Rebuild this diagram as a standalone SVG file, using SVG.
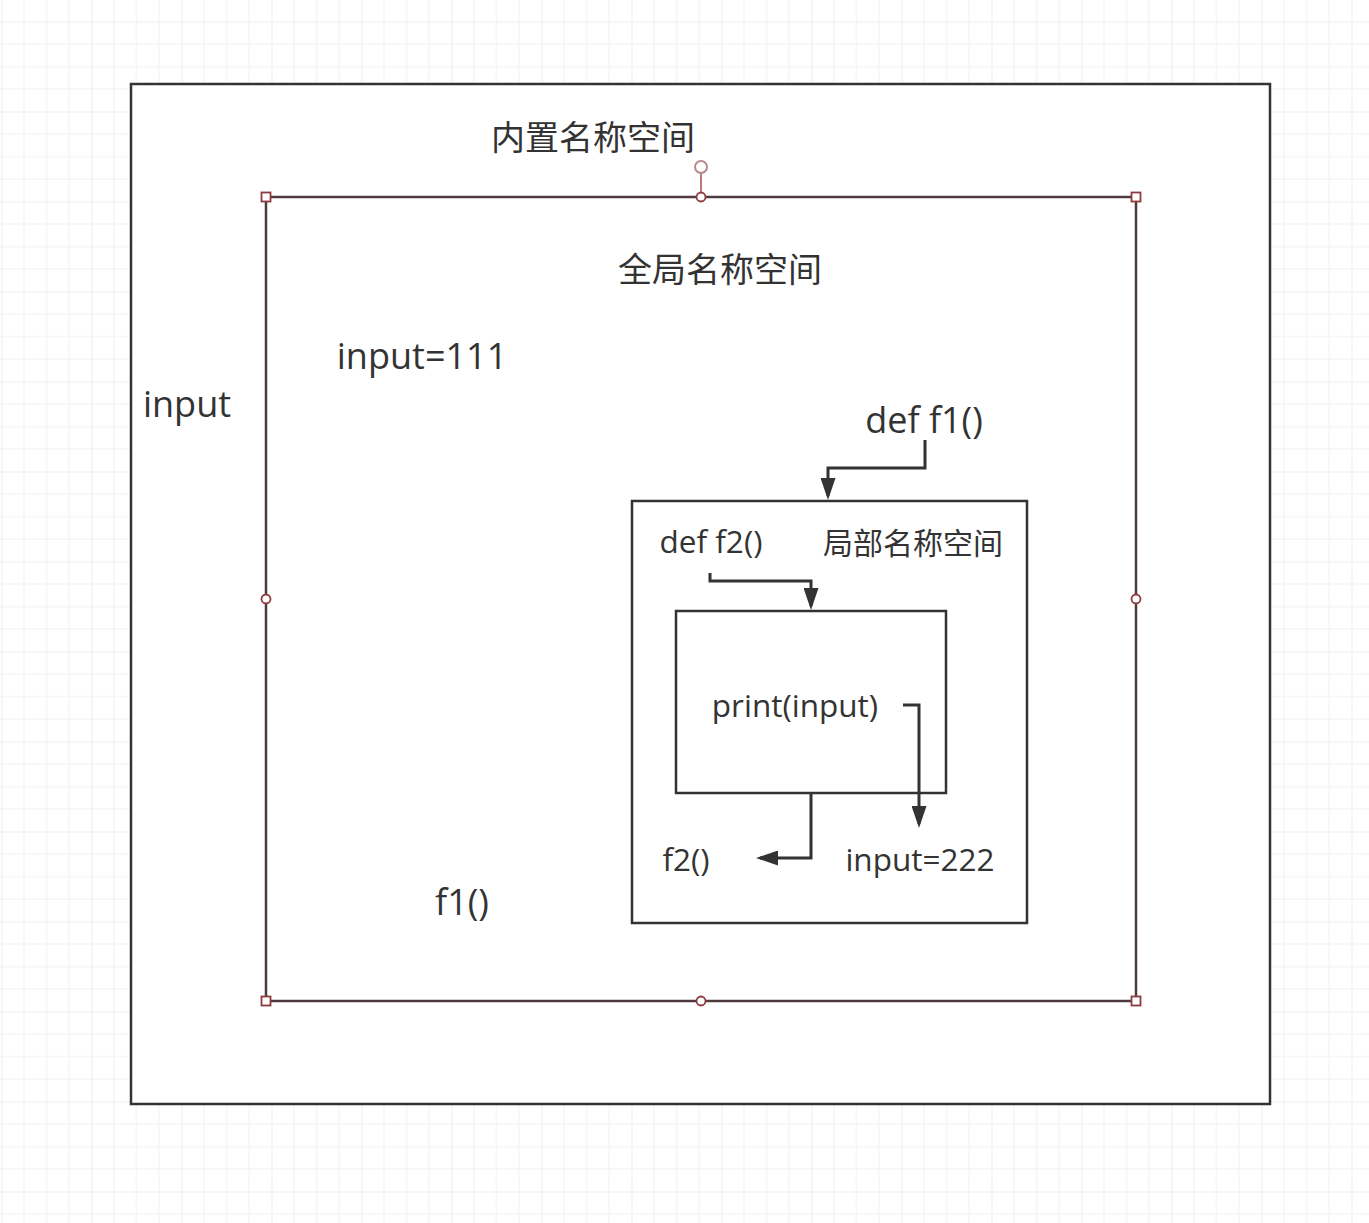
<svg xmlns="http://www.w3.org/2000/svg" width="1369" height="1223" viewBox="0 0 1369 1223">
<style>
.t{font-family:"Open Sans","Noto Sans CJK SC",sans-serif;fill:#333;}
.big{font-size:34px;}
.bigl{font-size:36px;}
.sm{font-size:30px;}
.sml{font-size:31.5px;}
.box{fill:none;stroke:#333;stroke-width:2.5;}
.sel{fill:none;stroke:#4e393c;stroke-width:2.5;}
.h{fill:#fff;stroke:#8e3a3e;stroke-width:1.8;}
.c{fill:none;stroke:#333;stroke-width:3;}
</style>
<defs>
<pattern id="grid" patternUnits="userSpaceOnUse" x="1.5" y="21.5" width="90" height="90">
<path d="M0 0V90M22.5 0V90M45 0V90M67.5 0V90M0 0H90M0 22.5H90M0 45H90M0 67.5H90" stroke="#f0f0f0" stroke-width="1" fill="none"/>
<path d="M0 0V90M0 0H90" stroke="#e6e6e6" stroke-width="1.2" fill="none"/>
</pattern>
<marker id="arr" markerWidth="22" markerHeight="15" refX="18" refY="7.5" orient="auto" markerUnits="userSpaceOnUse" viewBox="0 0 22 15">
<path d="M0 0L22 7.5L0 15Z" fill="#333"/>
</marker>
</defs>
<rect width="1369" height="1223" fill="#fff"/>
<rect width="1369" height="1223" fill="url(#grid)"/>

<g id="builtin">
<rect class="box" x="131" y="84" width="1139" height="1020" style="fill:#fff"/>
<text class="t big" x="593" y="150" text-anchor="middle">内置名称空间</text>
<text class="t bigl" x="187" y="417" text-anchor="middle">input</text>
</g>

<g id="global">
<rect class="sel" x="266" y="197" width="870" height="804"/>
<text class="t big" x="720" y="282" text-anchor="middle">全局名称空间</text>
<text class="t bigl" x="422" y="369" text-anchor="middle">input=111</text>
<text class="t bigl" x="924" y="433" text-anchor="middle">def f1()</text>
<text class="t bigl" x="462" y="915" text-anchor="middle">f1()</text>
</g>

<g id="handles">
<line x1="701" y1="173" x2="701" y2="197" stroke="#b56a70" stroke-width="1.8"/>
<circle cx="701" cy="167" r="6" fill="#fff" stroke="#b58a8c" stroke-width="2"/>
<rect class="h" x="261.5" y="192.5" width="9" height="9"/>
<rect class="h" x="1131.5" y="192.5" width="9" height="9"/>
<rect class="h" x="261.5" y="996.5" width="9" height="9"/>
<rect class="h" x="1131.5" y="996.5" width="9" height="9"/>
<circle class="h" cx="701" cy="197" r="4.5"/>
<circle class="h" cx="701" cy="1001" r="4.5"/>
<circle class="h" cx="266" cy="599" r="4.5"/>
<circle class="h" cx="1136" cy="599" r="4.5"/>
</g>

<g id="f1">
<rect class="box" x="632" y="501" width="395" height="422"/>
<text class="t sml" x="711" y="553" text-anchor="middle">def f2()</text>
<text class="t sm" x="913" y="554" text-anchor="middle">局部名称空间</text>
<text class="t sml" x="686" y="871" text-anchor="middle">f2()</text>
<text class="t sml" x="920" y="871" text-anchor="middle">input=222</text>
</g>

<g id="f2">
<rect class="box" x="676" y="611" width="270" height="182"/>
<text class="t sml" x="795" y="717" text-anchor="middle">print(input)</text>
</g>

<g id="connectors">
<path class="c" d="M925 440V468H828V496" marker-end="url(#arr)"/>
<path class="c" d="M710 573V581H811V606" marker-end="url(#arr)"/>
<path class="c" d="M903 705H919V824" marker-end="url(#arr)"/>
<path class="c" d="M811 793V858H760" marker-end="url(#arr)"/>
</g>
</svg>
